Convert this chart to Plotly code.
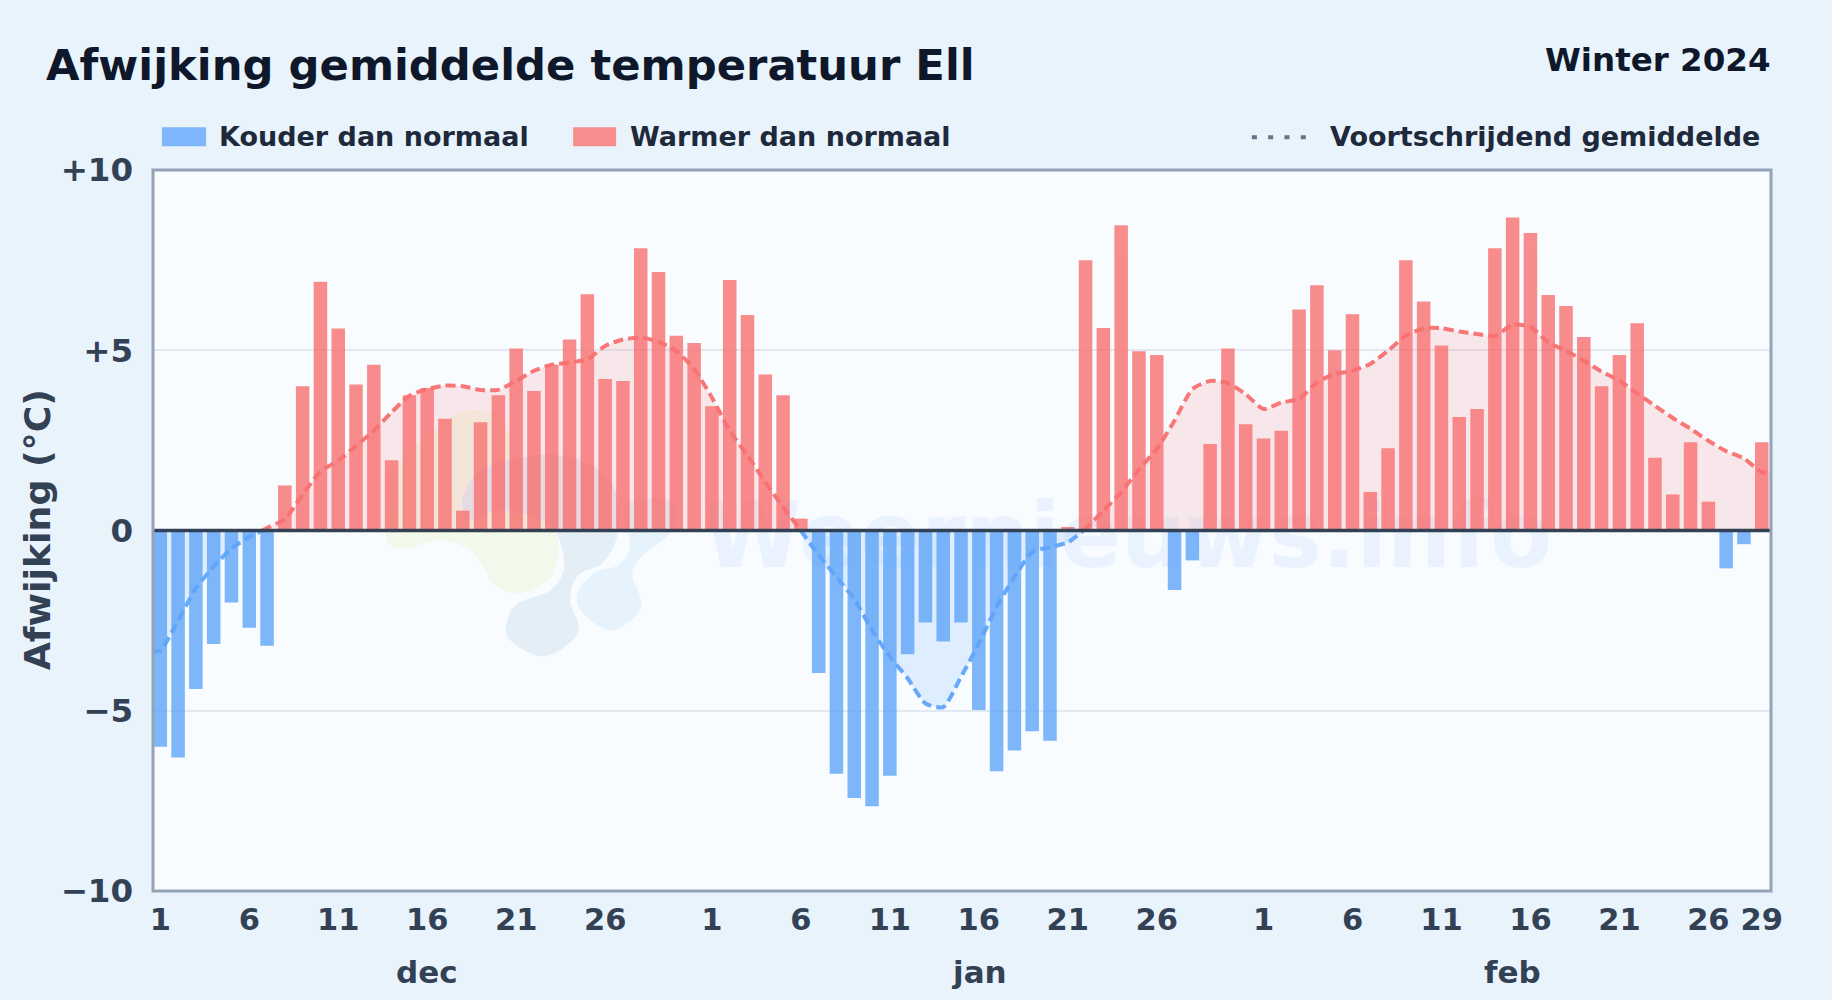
import plotly.graph_objects as go

TITLE = "Afwijking gemiddelde temperatuur Ell"
SUBTITLE = "Winter 2024"
Y_LABEL = "Afwijking (°C)"
LEGEND_COLD = "Kouder dan normaal"
LEGEND_WARM = "Warmer dan normaal"
LEGEND_ROLL = "Voortschrijdend gemiddelde"
WATERMARK = "Weernieuws.info"

dec_values = [-6.0, -6.3, -4.4, -3.15, -2.0, -2.7, -3.2, 1.25, 4.0, 6.9, 5.6, 4.05, 4.6, 1.95, 3.75, 3.95,
              3.1, 0.55, 3.0, 3.75, 5.05, 3.87, 4.6, 5.3, 6.55, 4.2, 4.15, 7.83, 7.17, 5.4, 5.2]
jan_values = [3.45, 6.95, 5.98, 4.33, 3.75, 0.33, -3.95, -6.75, -7.42, -7.65, -6.8, -3.43, -2.55, -3.08, -2.55,
              -4.98, -6.68, -6.1, -5.57, -5.83, 0.1, 7.5, 5.62, 8.47, 4.97, 4.87, -1.65, -0.83, 2.4, 5.05, 2.95]
feb_values = [2.55, 2.77, 6.13, 6.8, 5.0, 6.0, 1.07, 2.28, 7.5, 6.35, 5.13, 3.15, 3.37, 7.83, 8.68, 8.25, 6.53,
              6.23, 5.37, 4.0, 4.87, 5.75, 2.02, 1.0, 2.45, 0.8, -1.05, -0.38, 2.45]
day_values = dec_values + jan_values + feb_values
day_index = list(range(len(day_values)))

rolling_x = [-0.5] + day_index + [90.6]
rolling_values = [-3.35, -3.33, -2.5, -1.6, -1.0, -0.5, -0.18, 0.07, 0.32, 1.0, 1.64, 1.94, 2.35, 2.77, 3.28, 3.74, 3.92,
                  4.02, 4.0, 3.9, 3.9, 4.15, 4.43, 4.6, 4.66, 4.75, 5.12, 5.3, 5.35, 5.24, 4.98, 4.48, 3.69,
                  2.77, 2.08, 1.34, 0.65, 0.0, -0.69, -1.29, -1.9, -2.77, -3.5, -4.1, -4.8, -4.9, -4.06, -3.14,
                  -2.12, -1.29, -0.6, -0.46, -0.33, 0.05, 0.55, 1.06, 1.7, 2.26, 3.05, 3.92, 4.15, 4.09, 3.78,
                  3.37, 3.55, 3.65, 4.11, 4.34, 4.43, 4.62, 4.99, 5.4, 5.61, 5.61, 5.52, 5.45, 5.4, 5.71, 5.65,
                  5.22, 4.99, 4.71, 4.41, 4.16, 3.8, 3.46, 3.12, 2.82, 2.49, 2.2, 2.0, 1.62, 1.62]

x_tick_index = [0, 5, 10, 15, 20, 25, 31, 36, 41, 46, 51, 56, 62, 67, 72, 77, 82, 87, 90]
x_tick_labels = ["1", "6", "11", "16", "21", "26", "1", "6", "11", "16", "21", "26", "1", "6", "11", "16", "21", "26", "29"]
month_labels = ["dec", "jan", "feb"]
month_label_index = [15, 46, 76]
y_ticks = [-10, -5, 0, 5, 10]
y_tick_labels = ["−10", "−5", "0", "+5", "+10"]

BLUE = "#60a5fa"
RED = "#f87171"
PAGE = "#e8f3fc"
PLOT = "#f8fcff"
INK = "#0f172a"
INK2 = "#1e293b"
AXIS_INK = "#334155"

W, H = 1832, 1000
L, R, T, B = 152.7, 1771.3, 169.7, 890.7


def px(x):
    return (x - L) / (R - L)


def py(y):
    return (B - y) / (B - T)


def blob(points):
    """Closed smooth path through pixel points, in paper fractions (watermark logo)."""
    n = len(points)
    d = f"M {px(points[0][0]):.5f} {py(points[0][1]):.5f}"
    for i in range(n):
        p0, p1, p2, p3 = points[i - 1], points[i], points[(i + 1) % n], points[(i + 2) % n]
        c1 = (p1[0] + (p2[0] - p0[0]) / 6, p1[1] + (p2[1] - p0[1]) / 6)
        c2 = (p2[0] - (p3[0] - p1[0]) / 6, p2[1] - (p3[1] - p1[1]) / 6)
        d += f" C {px(c1[0]):.5f} {py(c1[1]):.5f} {px(c2[0]):.5f} {py(c2[1]):.5f} {px(p2[0]):.5f} {py(p2[1]):.5f}"
    return d + " Z"


def split_segments(xs, ys):
    """Split the rolling mean at its zero crossings so each part takes its own colour."""
    segments, cur = [], [(xs[0], ys[0])]
    for i in range(1, len(xs)):
        a, b = ys[i - 1], ys[i]
        if a * b < 0:
            xc = xs[i - 1] + (xs[i] - xs[i - 1]) * a / (a - b)
            cur.append((xc, 0.0))
            segments.append(cur)
            cur = [(xc, 0.0)]
        cur.append((xs[i], b))
        if b == 0:
            segments.append(cur)
            cur = [(xs[i], b)]
    segments.append(cur)
    return segments


fig = go.Figure()
SPLINE = dict(shape="spline", smoothing=0.6)

for seg in split_segments(rolling_x, rolling_values):
    negative = sum(p[1] for p in seg) < 0
    fig.add_trace(go.Scatter(
        x=[p[0] for p in seg], y=[p[1] for p in seg], mode="lines", fill="tozeroy",
        fillcolor="rgba(96,165,250,0.16)" if negative else "rgba(248,113,113,0.15)",
        line=dict(width=0, **SPLINE), showlegend=False, hoverinfo="skip"))

fig.add_trace(go.Bar(
    x=day_index, y=day_values, width=0.76, opacity=0.8,
    marker=dict(color=[BLUE if v < 0 else RED for v in day_values], line=dict(width=0)),
    showlegend=False))

for seg in split_segments(rolling_x, rolling_values):
    negative = sum(p[1] for p in seg) < 0
    fig.add_trace(go.Scatter(
        x=[p[0] for p in seg], y=[p[1] for p in seg], mode="lines",
        line=dict(color=BLUE if negative else RED, width=4, dash="10px,5px", **SPLINE),
        opacity=0.95, showlegend=False, hoverinfo="skip"))

logo = [
    ([(395, 470), (455, 415), (500, 418), (520, 470), (555, 530), (556, 565), (545, 582), (517, 593), (493, 583),
      (473, 552), (440, 540), (405, 548), (385, 535)], "#f2f9ea"),
    ([(463, 495), (490, 465), (560, 455), (610, 480), (618, 530), (603, 562), (578, 575), (570, 600), (578, 632),
      (545, 656), (510, 640), (507, 620), (518, 603), (550, 590), (564, 565), (550, 525), (500, 510), (470, 520)], "#e4eef7"),
    ([(580, 588), (597, 571), (618, 565), (630, 545), (625, 505), (670, 500), (672, 530), (645, 553), (632, 573),
      (641, 607), (613, 630), (587, 617), (577, 603)], "#e6f3fd"),
]
shapes = [dict(type="path", xref="paper", yref="paper", path=blob(p), fillcolor=c, line=dict(width=0), layer="below")
          for p, c in logo]
shapes += [
    dict(type="rect", xref="paper", yref="paper", x0=px(700), x1=px(1555), y0=py(586), y1=py(472), layer="below",
         fillcolor="rgba(0,0,0,0)", line=dict(width=0),
         label=dict(text=WATERMARK, textposition="middle center",
                    font=dict(size=90, color="rgba(59,130,246,0.08)", family="DejaVu Sans", weight="bold"))),
    dict(type="line", xref="paper", yref="y", x0=0, x1=1.0, y0=0, y1=0, line=dict(color=AXIS_INK, width=3.6), layer="above"),
    dict(type="rect", xref="paper", yref="paper", x0=0, x1=1, y0=0, y1=1, line=dict(color="#94a3b8", width=3),
         fillcolor="rgba(0,0,0,0)", layer="above"),
    dict(type="rect", xref="paper", yref="paper", x0=px(161.6), x1=px(205.8), y0=py(146), y1=py(127), fillcolor="#7fb6fb", line=dict(width=0)),
    dict(type="rect", xref="paper", yref="paper", x0=px(573), x1=px(616), y0=py(146), y1=py(127), fillcolor="#f98d8d", line=dict(width=0)),
    dict(type="line", xref="paper", yref="paper", x0=px(1252), x1=px(1308), y0=py(137), y1=py(137), line=dict(color="#64748b", width=4, dash="5px,11.3px")),
]


def label(text, x, y, size, color=INK2, anchor="left", textangle=0):
    return dict(text=text, x=px(x), y=py(y), xref="paper", yref="paper", xanchor=anchor, yanchor="middle", showarrow=False,
                textangle=textangle, font=dict(size=size, color=color, family="DejaVu Sans", weight="bold"))


annotations = [
    label(TITLE, 43.7, 64.5, 43.3, INK),
    label(SUBTITLE, 1773, 59.5, 32.5, INK, anchor="right"),
    label(LEGEND_COLD, 216.7, 136.5, 27),
    label(LEGEND_WARM, 627.7, 136.5, 27),
    label(LEGEND_ROLL, 1328, 136.5, 27),
    label(Y_LABEL, 36.7, 530, 36.3, AXIS_INK, anchor="center", textangle=-90),
]
for name, i in zip(month_labels, month_label_index):
    annotations.append(dict(text=name, x=i, y=py(972), xref="x", yref="paper", xanchor="center", yanchor="middle", showarrow=False,
                            font=dict(size=31, color=AXIS_INK, family="DejaVu Sans", weight="bold")))

fig.update_layout(
    width=W, height=H, autosize=False,
    margin=dict(l=L, r=W - R, t=T, b=H - B, pad=0),
    paper_bgcolor=PAGE, plot_bgcolor=PLOT,
    barmode="overlay", showlegend=False, shapes=shapes, annotations=annotations,
    font=dict(family="DejaVu Sans"),
    xaxis=dict(range=[-0.41, 90.52], tickmode="array", tickvals=x_tick_index, ticktext=x_tick_labels, showgrid=False, zeroline=False,
               showline=False, ticks="outside", ticklen=1, tickcolor="rgba(0,0,0,0)",
               tickfont=dict(size=30.5, color=AXIS_INK, family="DejaVu Sans", weight="bold")),
    yaxis=dict(range=[-10, 10], tickmode="array", tickvals=y_ticks, ticktext=y_tick_labels, showgrid=True, gridcolor="#e2e8f0", gridwidth=2,
               zeroline=False, showline=False, ticks="outside", ticklen=12.4,
               tickcolor="rgba(0,0,0,0)", tickfont=dict(size=32.5, color=AXIS_INK, family="DejaVu Sans", weight="bold")),
)

fig.write_html("out.html", config={"displayModeBar": False},
               post_script="document.body.style.margin='0';document.body.style.background='%s';" % PAGE)
